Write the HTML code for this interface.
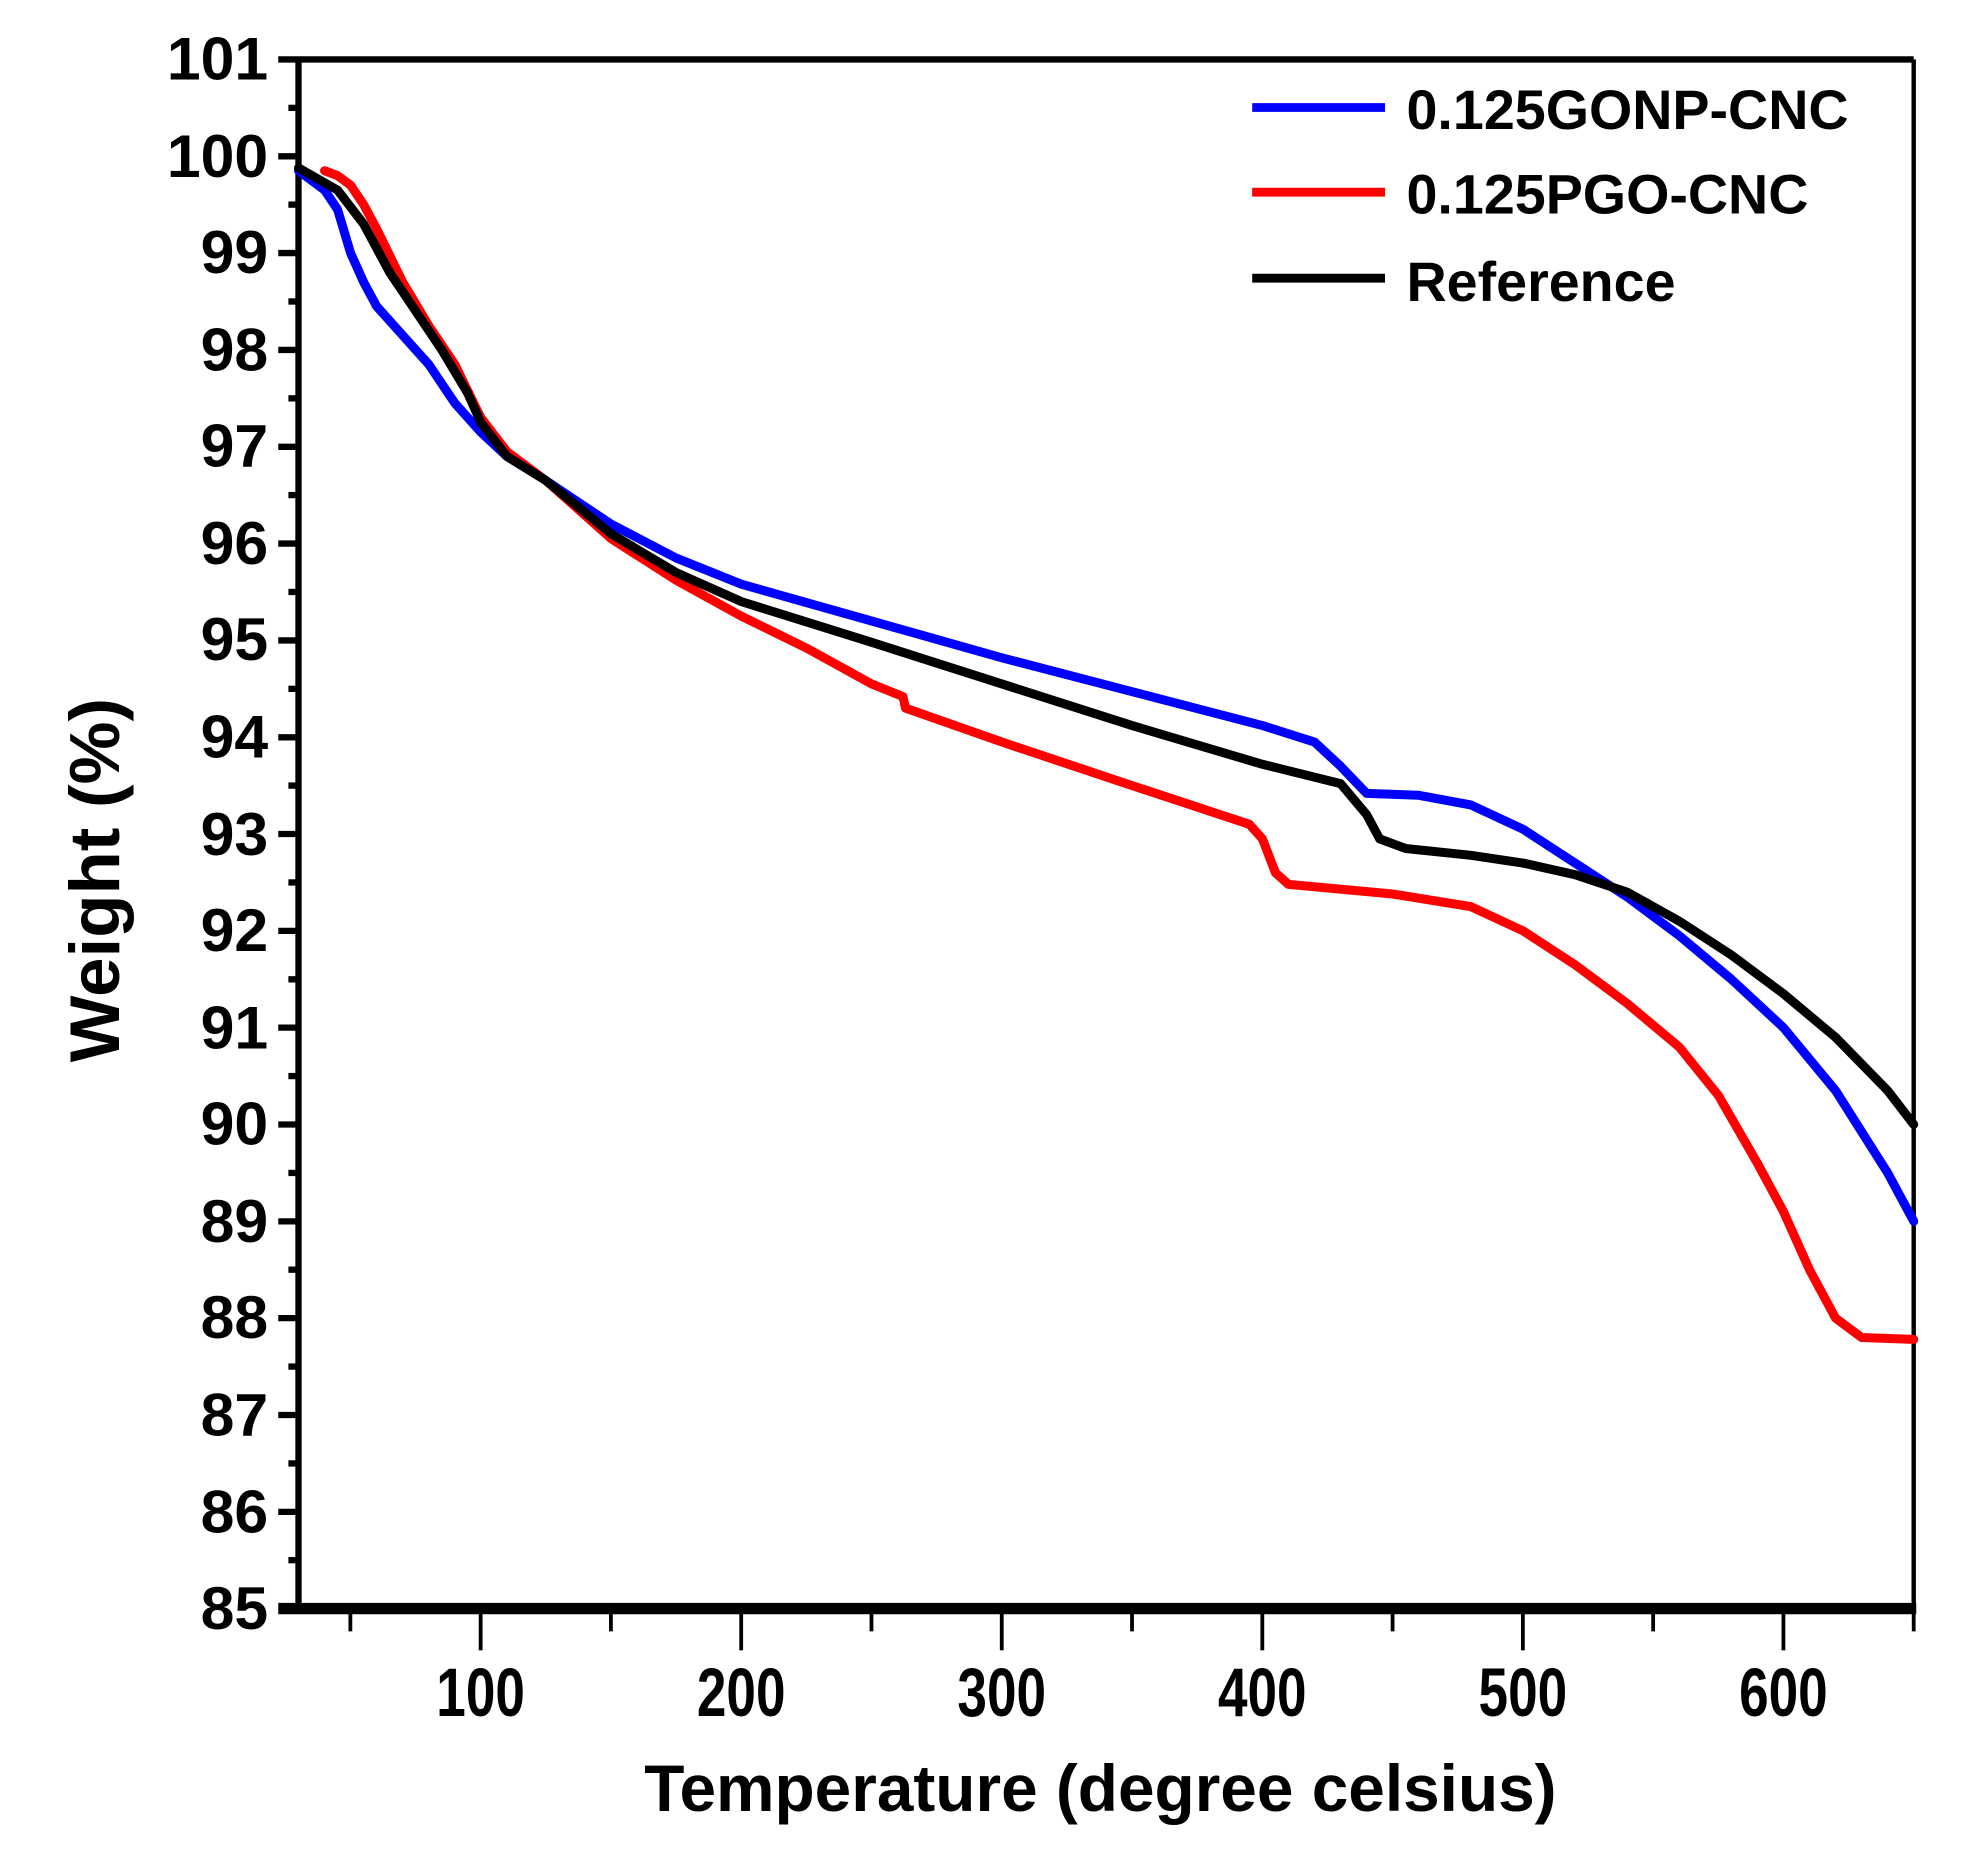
<!DOCTYPE html>
<html><head><meta charset="utf-8"><style>
html,body{margin:0;padding:0;background:#fff;}
svg{display:block;}
text{font-family:"Liberation Sans",Arial,sans-serif;font-weight:bold;fill:#000;}
</style></head><body>
<svg width="1982" height="1859" viewBox="0 0 1567 1470" preserveAspectRatio="none" xmlns="http://www.w3.org/2000/svg">
<rect width="1567" height="1470" fill="#fff"/>
<line x1="236" y1="47" x2="1513" y2="47" stroke="#000" stroke-width="5"/>
<line x1="1513" y1="47" x2="1513" y2="1272" stroke="#000" stroke-width="3.5"/>
<line x1="236" y1="45" x2="236" y2="1274" stroke="#000" stroke-width="5"/>
<line x1="220" y1="1272" x2="1515" y2="1272" stroke="#000" stroke-width="9"/>
<g stroke="#000" stroke-width="5">
<line x1="220" y1="47" x2="236" y2="47"/><line x1="228" y1="85.3" x2="236" y2="85.3"/>
<line x1="220" y1="123.6" x2="236" y2="123.6"/><line x1="228" y1="161.8" x2="236" y2="161.8"/>
<line x1="220" y1="200.1" x2="236" y2="200.1"/><line x1="228" y1="238.4" x2="236" y2="238.4"/>
<line x1="220" y1="276.7" x2="236" y2="276.7"/><line x1="228" y1="315" x2="236" y2="315"/>
<line x1="220" y1="353.3" x2="236" y2="353.3"/><line x1="228" y1="391.5" x2="236" y2="391.5"/>
<line x1="220" y1="429.8" x2="236" y2="429.8"/><line x1="228" y1="468.1" x2="236" y2="468.1"/>
<line x1="220" y1="506.4" x2="236" y2="506.4"/><line x1="228" y1="544.7" x2="236" y2="544.7"/>
<line x1="220" y1="583" x2="236" y2="583"/><line x1="228" y1="621.2" x2="236" y2="621.2"/>
<line x1="220" y1="659.5" x2="236" y2="659.5"/><line x1="228" y1="697.8" x2="236" y2="697.8"/>
<line x1="220" y1="736.1" x2="236" y2="736.1"/><line x1="228" y1="774.4" x2="236" y2="774.4"/>
<line x1="220" y1="812.6" x2="236" y2="812.6"/><line x1="228" y1="850.9" x2="236" y2="850.9"/>
<line x1="220" y1="889.2" x2="236" y2="889.2"/><line x1="228" y1="927.5" x2="236" y2="927.5"/>
<line x1="220" y1="965.8" x2="236" y2="965.8"/><line x1="228" y1="1004" x2="236" y2="1004"/>
<line x1="220" y1="1042.3" x2="236" y2="1042.3"/><line x1="228" y1="1080.6" x2="236" y2="1080.6"/>
<line x1="220" y1="1118.9" x2="236" y2="1118.9"/><line x1="228" y1="1157.2" x2="236" y2="1157.2"/>
<line x1="220" y1="1195.5" x2="236" y2="1195.5"/><line x1="228" y1="1233.7" x2="236" y2="1233.7"/>
</g>
<g stroke="#000" stroke-width="3">
<line x1="277" y1="1272" x2="277" y2="1290"/><line x1="380" y1="1272" x2="380" y2="1305"/>
<line x1="483" y1="1272" x2="483" y2="1290"/><line x1="586" y1="1272" x2="586" y2="1305"/>
<line x1="689" y1="1272" x2="689" y2="1290"/><line x1="792" y1="1272" x2="792" y2="1305"/>
<line x1="895" y1="1272" x2="895" y2="1290"/><line x1="998" y1="1272" x2="998" y2="1305"/>
<line x1="1101" y1="1272" x2="1101" y2="1290"/><line x1="1204" y1="1272" x2="1204" y2="1305"/>
<line x1="1307" y1="1272" x2="1307" y2="1290"/><line x1="1410" y1="1272" x2="1410" y2="1305"/>
<line x1="1513" y1="1272" x2="1513" y2="1290"/>
</g>
<g font-size="48" text-anchor="end">
<text x="212" y="63">101</text><text x="212" y="140">100</text><text x="212" y="216">99</text>
<text x="212" y="293">98</text><text x="212" y="369">97</text><text x="212" y="446">96</text>
<text x="212" y="522">95</text><text x="212" y="599">94</text><text x="212" y="676">93</text>
<text x="212" y="752">92</text><text x="212" y="829">91</text><text x="212" y="905">90</text>
<text x="212" y="982">89</text><text x="212" y="1058">88</text><text x="212" y="1135">87</text>
<text x="212" y="1212">86</text><text x="212" y="1288">85</text>
</g>
<g font-size="42" text-anchor="middle" transform="translate(0,1357) scale(1,1.3) translate(0,-1357)">
<text x="380" y="1357">100</text><text x="586" y="1357">200</text><text x="792" y="1357">300</text>
<text x="998" y="1357">400</text><text x="1204" y="1357">500</text><text x="1410" y="1357">600</text>
</g>
<text x="870" y="1432" font-size="52" text-anchor="middle">Temperature (degree celsius)</text>
<text transform="translate(94,696) rotate(-90)" font-size="56" text-anchor="middle">Weight (%)</text>
<g stroke-width="7">
<line x1="990" y1="85" x2="1095" y2="85" stroke="#0000ff"/>
<line x1="990" y1="152" x2="1095" y2="152" stroke="#ff0000"/>
<line x1="990" y1="220" x2="1095" y2="220" stroke="#000"/>
</g>
<g font-size="44">
<text x="1112" y="102">0.125GONP-CNC</text>
<text x="1112" y="169">0.125PGO-CNC</text>
<text x="1112" y="238">Reference</text>
</g>
<g transform="matrix(2.0597 0 0 -76.5625 174.21 7779.8)" fill="none" stroke-width="9" stroke-linejoin="round" stroke-linecap="round">
<polyline vector-effect="non-scaling-stroke" stroke="#ff0000" points="40,99.85 45,99.8 50,99.7 55,99.5 60,99.25 70,98.7 80,98.25 90,97.85 100,97.3 110,96.95 125,96.65 150,96.05 175,95.62 200,95.25 225,94.92 250,94.55 262,94.42 263,94.3 300,93.95 350,93.5 395,93.1 400,92.95 405,92.6 410,92.48 450,92.38 480,92.25 500,92.0 520,91.65 540,91.25 560,90.8 575,90.3 590,89.6 600,89.1 610,88.5 620,88.0 630,87.8 650,87.78"/>
<polyline vector-effect="non-scaling-stroke" stroke="#0000ff" points="30,99.85 40,99.65 45,99.45 50,99.0 55,98.7 60,98.45 70,98.15 80,97.85 90,97.45 100,97.15 110,96.9 125,96.65 150,96.2 175,95.85 200,95.58 250,95.2 300,94.82 350,94.47 400,94.12 420,93.95 430,93.7 440,93.42 460,93.4 480,93.3 500,93.05 520,92.7 540,92.35 560,91.95 580,91.5 600,91.0 620,90.35 640,89.5 650,89.0"/>
<polyline vector-effect="non-scaling-stroke" stroke="#000" points="30,99.88 45,99.65 55,99.3 65,98.8 75,98.4 85,98.0 95,97.55 100,97.25 110,96.9 125,96.65 150,96.1 175,95.7 200,95.4 250,94.98 300,94.55 350,94.12 400,93.72 430,93.52 440,93.2 445,92.95 455,92.85 480,92.78 500,92.7 520,92.58 540,92.4 560,92.1 580,91.75 600,91.35 620,90.9 640,90.35 650,90.0"/>
</g>
</svg>
</body></html>
